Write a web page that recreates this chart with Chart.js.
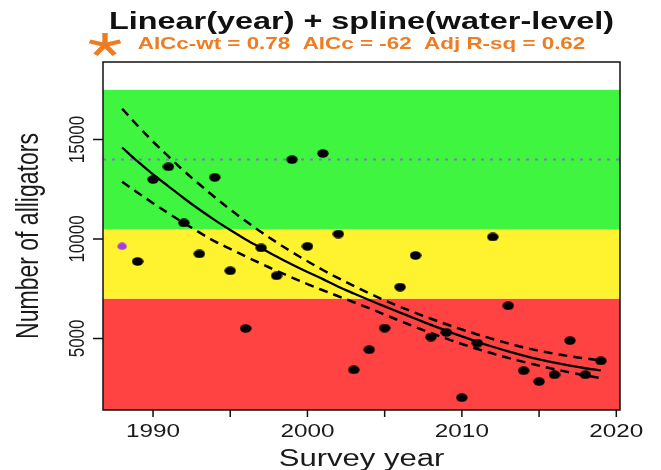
<!DOCTYPE html>
<html>
<head>
<meta charset="utf-8">
<script src="https://cdn.jsdelivr.net/npm/chart.js@4"></script>
<style>
  body { margin: 0; background: #fff; }
  #wrap { width: 661px; height: 470px; }
</style>
</head>
<body>
<div id="wrap"><canvas id="alligatorChart" width="661" height="470"></canvas></div>
<script>
// survey counts
const surveyYears = [1989, 1990, 1991, 1992, 1993, 1994, 1995, 1996, 1997, 1998, 1999, 2000, 2001, 2002, 2003,
    2004, 2005, 2006, 2007, 2008, 2009, 2010, 2011, 2012, 2013, 2014, 2015, 2016, 2017, 2018, 2019];
const alligatorCounts = [8870, 12990, 13630, 10810, 9250, 13100, 8400, 5500, 9550, 8150, 13990, 9630, 14300, 10250, 3420,
    4430, 5520, 7580, 9170, 5070, 5300, 2020, 4760, 10100, 6640, 3380, 2830, 3170, 4890, 3170, 3870];
const flaggedYear = [1988];
const flaggedCount = [9630];

// fitted trend and its confidence band
const fitYears = [1988, 1989, 1990, 1991, 1992, 1993, 1994, 1995, 1996, 1997, 1998, 1999, 2000, 2001, 2002, 2003,
    2004, 2005, 2006, 2007, 2008, 2009, 2010, 2011, 2012, 2013, 2014, 2015, 2016, 2017, 2018, 2019];
const fitMid = [14600, 13900, 13250, 12650, 12050, 11480, 10950, 10450, 9980, 9550, 9120, 8720, 8340, 7980, 7600, 7260,
    6930, 6610, 6300, 5990, 5680, 5380, 5100, 4830, 4580, 4350, 4140, 3950, 3780, 3630, 3500, 3390];
const fitUpper = [16550, 15700, 14900, 14150, 13420, 12750, 12100, 11480, 10900, 10350, 9830, 9340, 8880, 8440, 8030, 7640,
    7270, 6920, 6590, 6280, 5990, 5710, 5450, 5200, 4970, 4750, 4550, 4380, 4230, 4100, 3990, 3900];
const fitLower = [12880, 12330, 11800, 11290, 10800, 10330, 9880, 9500, 9120, 8760, 8400, 8060, 7730, 7420, 7120, 6820,
    6520, 6200, 5880, 5570, 5270, 4990, 4720, 4470, 4240, 4020, 3820, 3630, 3450, 3290, 3140, 3000];

// status bands and reference line
const bandFrom = [0, 7000, 10500];
const bandTo = [7000, 10500, 17500];
const bandColors = ['#FF4242', '#FFF22F', '#40F540'];
const targetLevel = [14000];

const xTicks = [1990, 1995, 2000, 2005, 2010, 2015, 2020];
const xTickLabels = ['1990', '', '2000', '', '2010', '', '2020'];
const yTicks = [5000, 10000, 15000];
const yTickLabels = ['5000', '10000', '15000'];

const FONT = '"Liberation Sans", Arial, sans-serif';
const SX = 1.35; // the original picture is stretched sideways
const ORANGE = '#EE7D22';

function dotImage(w, h, color) {
    const c = document.createElement('canvas');
    c.width = w; c.height = h;
    const g = c.getContext('2d');
    g.fillStyle = color;
    g.beginPath();
    g.ellipse(w / 2, h / 2, w / 2 - 0.3, h / 2 - 0.3, 0, 0, Math.PI * 2);
    g.fill();
    return c;
}

function text(ctx, str, x, y, font, color, rotate) {
    ctx.save();
    ctx.font = font;
    ctx.fillStyle = color;
    ctx.textAlign = 'center';
    ctx.textBaseline = 'alphabetic';
    ctx.translate(x, y);
    ctx.scale(SX, 1);
    if (rotate) ctx.rotate(-Math.PI / 2);
    ctx.fillText(str, 0, 0);
    ctx.restore();
}

const decor = {
    id: 'decor',
    beforeDatasetsDraw(chart) {
        const { ctx, chartArea: a, scales: { x, y } } = chart;
        ctx.save();
        ctx.beginPath();
        ctx.rect(a.left, a.top, a.right - a.left, a.bottom - a.top);
        ctx.clip();
        bandFrom.forEach((from, i) => {
            const top = y.getPixelForValue(bandTo[i]);
            const bot = y.getPixelForValue(from);
            ctx.fillStyle = bandColors[i];
            ctx.fillRect(a.left, top, a.right - a.left, bot - top);
        });
        ctx.strokeStyle = '#7E7EB8';
        ctx.lineWidth = 2;
        ctx.setLineDash([3, 6]);
        targetLevel.forEach(v => {
            const py = y.getPixelForValue(v);
            ctx.beginPath();
            ctx.moveTo(a.left, py);
            ctx.lineTo(a.right, py);
            ctx.stroke();
        });
        ctx.restore();
    },
    afterDraw(chart) {
        const { ctx, chartArea: a, scales: { x, y } } = chart;
        ctx.save();
        ctx.strokeStyle = '#111';
        ctx.lineWidth = 1.5;
        ctx.strokeRect(a.left, a.top, a.right - a.left, a.bottom - a.top);
        // tick marks
        ctx.beginPath();
        xTicks.forEach(v => {
            const px = x.getPixelForValue(v);
            ctx.moveTo(px, a.bottom);
            ctx.lineTo(px, a.bottom + 7);
        });
        yTicks.forEach(v => {
            const py = y.getPixelForValue(v);
            ctx.moveTo(a.left, py);
            ctx.lineTo(a.left - 10, py);
        });
        ctx.stroke();
        ctx.restore();

        xTicks.forEach((v, i) => {
            if (xTickLabels[i]) text(ctx, xTickLabels[i], x.getPixelForValue(v), 437, '18px ' + FONT, '#1a1a1a');
        });
        yTicks.forEach((v, i) => {
            text(ctx, yTickLabels[i], 84, y.getPixelForValue(v), '17px ' + FONT, '#1a1a1a', true);
        });
        text(ctx, 'Survey year', (a.left + a.right) / 2, 466, '23px ' + FONT, '#1a1a1a');
        text(ctx, 'Number of alligators', 38, (a.top + a.bottom) / 2, '23px ' + FONT, '#1a1a1a', true);

        text(ctx, 'Linear(year) + spline(water-level)', (a.left + a.right) / 2, 29, 'bold 24px ' + FONT, '#111');
        text(ctx, 'AICc-wt = 0.78  AICc = -62  Adj R-sq = 0.62', (a.left + a.right) / 2, 49, 'bold 16.6px ' + FONT, ORANGE);

        // orange asterisk
        ctx.save();
        ctx.translate(105, 45);
        ctx.scale(SX, 1);
        ctx.strokeStyle = ORANGE;
        ctx.lineWidth = 4;
        ctx.lineCap = 'butt';
        ctx.beginPath();
        [-90, -18, -162, 54, 126].forEach(deg => {
            const r = deg * Math.PI / 180;
            ctx.moveTo(0, 0);
            ctx.lineTo(12 * Math.cos(r), 12 * Math.sin(r));
        });
        ctx.stroke();
        ctx.restore();
    }
};

const ctx = document.getElementById('alligatorChart').getContext('2d');

const toXY = (xs, ys) => xs.map((v, i) => ({ x: v, y: ys[i] }));
const fitStyle = { type: 'line', borderColor: '#000', pointRadius: 0, tension: 0.35, fill: false, order: 1 };

new Chart(ctx, {
    type: 'scatter',
    data: {
        datasets: [
            {
                label: 'Survey counts',
                data: toXY(surveyYears, alligatorCounts),
                pointStyle: dotImage(12, 9, '#000'),
                order: 0
            },
            {
                label: 'Flagged',
                data: toXY(flaggedYear, flaggedCount),
                pointStyle: dotImage(10, 8, '#A63CE6'),
                order: 0
            },
            Object.assign({ label: 'Fit', data: toXY(fitYears, fitMid), borderWidth: 2.3 }, fitStyle),
            Object.assign({ label: 'Upper', data: toXY(fitYears, fitUpper), borderWidth: 2.5, borderDash: [9, 6] }, fitStyle),
            Object.assign({ label: 'Lower', data: toXY(fitYears, fitLower), borderWidth: 2.5, borderDash: [9, 6] }, fitStyle)
        ]
    },
    options: {
        responsive: false,
        animation: false,
        devicePixelRatio: 1,
        layout: { padding: { left: 103, right: 41, top: 62, bottom: 60 } },
        plugins: { legend: { display: false }, tooltip: { enabled: false } },
        scales: {
            x: { type: 'linear', display: false, min: 1986.76, max: 2020.24 },
            y: { type: 'linear', display: false, min: 1400, max: 18900 }
        }
    },
    plugins: [decor]
});
</script>
</body>
</html>
